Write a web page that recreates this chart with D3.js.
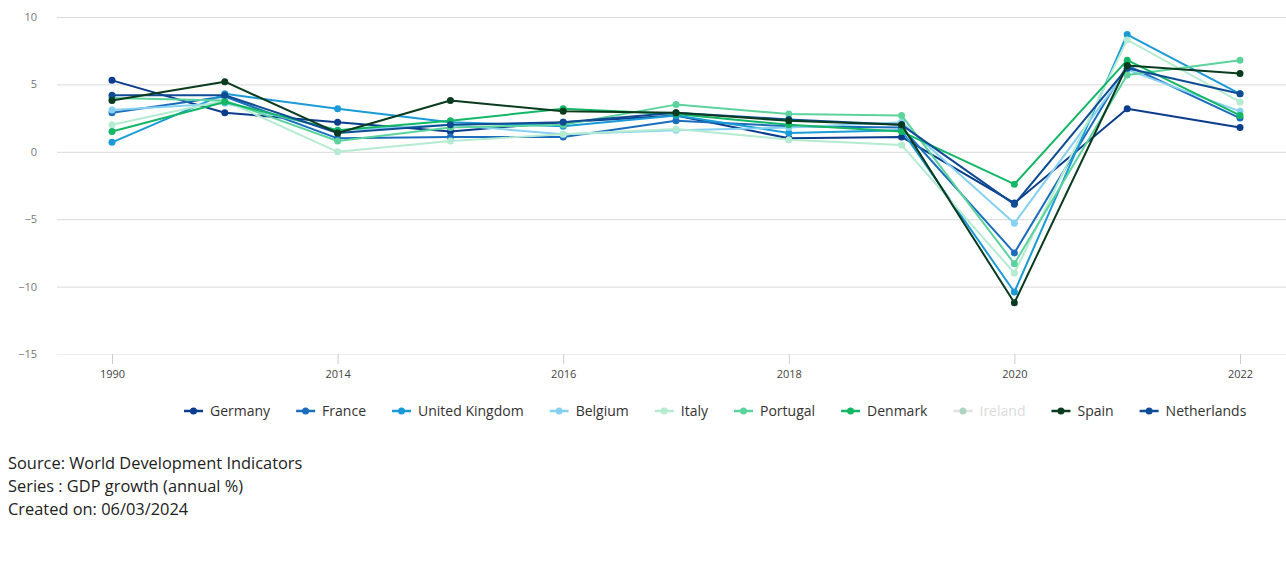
<!DOCTYPE html>
<html><head><meta charset="utf-8">
<script src="https://cdn.jsdelivr.net/npm/d3@7"></script>
<style>
html,body{margin:0;padding:0;background:#fff;}
svg{display:block;font-family:"Open Sans",sans-serif;}
</style></head><body>
<svg id="c" width="1286" height="585"></svg>
<script>
const years = ["1990","2000","2014","2015","2016","2017","2018","2019","2020","2021","2022"];
const yearLabels = ["1990","2014","2016","2018","2020","2022"];
const yTicks = [10,5,0,-5,-10,-15];
const seriesNames = ["Germany","France","United Kingdom","Belgium","Italy","Portugal","Denmark","Ireland","Spain","Netherlands"];
const seriesColors = ["#0b3d8c","#1c6dbd","#1a9bd7","#86d1f1","#b5ebd0","#5cd39c","#13b766","#1b8a4f","#0a3b1e","#0f4c94"];
const hidden = ["Ireland"];
const germany     = [5.3, 2.9, 2.2, 1.5, 2.2, 2.7, 1.0, 1.1, -3.8, 3.2, 1.8];
const france      = [2.9, 4.1, 1.0, 1.1, 1.1, 2.3, 1.9, 1.8, -7.5, 6.4, 2.5];
const uk          = [0.7, 4.3, 3.2, 2.2, 1.9, 2.7, 1.4, 1.6, -10.4, 8.7, 4.3];
const belgium     = [3.1, 3.6, 1.6, 2.0, 1.3, 1.6, 1.8, 2.2, -5.3, 6.1, 3.0];
const italy       = [2.0, 3.8, 0.0, 0.8, 1.3, 1.7, 0.9, 0.5, -9.0, 8.3, 3.7];
const portugal    = [4.0, 3.8, 0.8, 1.8, 2.0, 3.5, 2.8, 2.7, -8.3, 5.7, 6.8];
const denmark     = [1.5, 3.7, 1.6, 2.3, 3.2, 2.8, 2.0, 1.5, -2.4, 6.8, 2.7];
const ireland     = [];
const spain       = [3.8, 5.2, 1.4, 3.8, 3.0, 2.9, 2.3, 2.0, -11.2, 6.4, 5.8];
const netherlands = [4.2, 4.2, 1.4, 2.0, 2.2, 2.9, 2.4, 2.0, -3.9, 6.2, 4.3];
const seriesValues = [germany, france, uk, belgium, italy, portugal, denmark, ireland, spain, netherlands];
const sourceLines = ["Source: World Development Indicators","Series : GDP growth (annual %)","Created on: 06/03/2024"];

const svg = d3.select("#c");
const W = 1286;
const plotLeft = 57, plotTop = 17, plotBottom = 354;
const x = d3.scalePoint().domain(years).range([55.6, 1296.4]).padding(0.5);
const y = d3.scaleLinear().domain([-15, 10]).range([plotBottom, plotTop]);

// grid + y labels
const yAxis = svg.append("g").attr("transform", `translate(${plotLeft},0)`)
  .call(d3.axisLeft(y).tickValues(yTicks).tickSize(-(W - plotLeft)).tickPadding(20).tickFormat(d3.format("d")));
yAxis.select(".domain").remove();
yAxis.selectAll(".tick line").attr("stroke", d => d === -15 ? "#eeeeee" : "#d9d9d9").attr("stroke-width", 1);
yAxis.selectAll(".tick text").attr("fill", "#777").attr("font-size", 11).attr("font-family", "Open Sans");

// x axis
const xAxis = svg.append("g").attr("transform", `translate(0,${plotBottom})`)
  .call(d3.axisBottom(x).tickValues(yearLabels).tickSize(10).tickPadding(6));
xAxis.select(".domain").remove();
xAxis.selectAll(".tick line").attr("stroke", "#cccccc");
xAxis.selectAll(".tick text").attr("fill", "#444").attr("font-size", 11).attr("font-family", "Open Sans");

// lines
const line = d3.line().x((d,i) => x(years[i])).y(d => y(d));
const order = [0,1,2,3,4,5,6,9,8];
order.forEach(si => {
  const vals = seriesValues[si];
  if (!vals.length || hidden.includes(seriesNames[si])) return;
  const g = svg.append("g");
  g.append("path").datum(vals).attr("d", line).attr("fill", "none")
    .attr("stroke", seriesColors[si]).attr("stroke-width", 2).attr("stroke-linejoin", "round");
  g.selectAll("circle").data(vals).join("circle")
    .attr("cx", (d,i) => x(years[i])).attr("cy", d => y(d)).attr("r", 3.5)
    .attr("fill", seriesColors[si]);
});

// legend
const leg = svg.append("g").attr("font-family", "Open Sans").attr("font-size", 14);
let lx = 184;
const ly = 411;
seriesNames.forEach((name, i) => {
  const off = hidden.includes(name);
  const g = leg.append("g").attr("transform", `translate(${lx},${ly})`).attr("opacity", off ? 0.35 : 1);
  g.append("line").attr("x1", 0).attr("x2", 19).attr("y1", 0).attr("y2", 0)
    .attr("stroke", off ? "#aaaaaa" : seriesColors[i]).attr("stroke-width", 2.5);
  g.append("circle").attr("cx", 9.5).attr("cy", 0).attr("r", 3.5).attr("fill", seriesColors[i]);
  const t = g.append("text").attr("x", 26).attr("y", 5).attr("fill", off ? "#999" : "#333").text(name);
  const w = t.node().getComputedTextLength();
  lx += 26 + w + 26;
});

// source text
const src = svg.append("g").attr("font-family", "Open Sans").attr("font-size", 16.4).attr("fill", "#222");
sourceLines.forEach((s, i) => {
  src.append("text").attr("x", 8).attr("y", 469 + i * 23).text(s);
});
</script>
</body></html>
